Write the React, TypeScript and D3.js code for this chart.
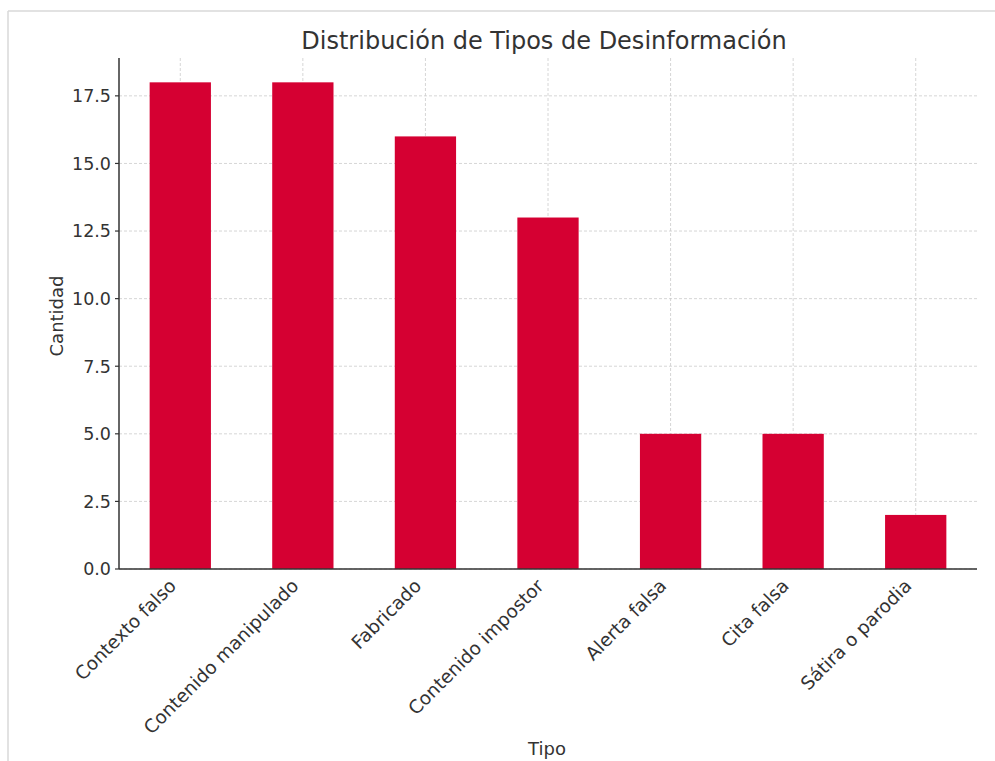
import React from "react";
import * as d3 from "d3";

const categories: string[] = [
  "Contexto falso",
  "Contenido manipulado",
  "Fabricado",
  "Contenido impostor",
  "Alerta falsa",
  "Cita falsa",
  "Sátira o parodia",
];
const values: number[] = [18, 18, 16, 13, 5, 5, 2];
const yTicks: number[] = [0, 2.5, 5, 7.5, 10, 12.5, 15, 17.5];
const title = "Distribución de Tipos de Desinformación";
const xLabel = "Tipo";
const yLabel = "Cantidad";

const W = 995;
const H = 761;
const left = 119;
const right = 977;
const top = 58;
const bottom = 569;
const FONT = "'DejaVu Sans', sans-serif";

export default function App() {
  const x = d3
    .scaleBand<string>()
    .domain(categories)
    .range([left, right])
    .paddingInner(0.5)
    .paddingOuter(0.25);
  const y = d3.scaleLinear().domain([0, 18.9]).range([bottom, top]);
  const fmt = d3.format(".1f");

  return (
    <div style={{ position: "absolute", left: 0, top: 0 }}>
      <svg width={W} height={H} style={{ display: "block", background: "#fff" }}>
        {/* frame */}
        <line x1={8} y1={11} x2={W} y2={11} stroke="#d9d9d9" strokeWidth={1.5} />
        <line x1={8} y1={11} x2={8} y2={H} stroke="#d9d9d9" strokeWidth={1.5} />

        {/* grid */}
        {yTicks.map((t) => (
          <line
            key={"gy" + t}
            x1={left}
            x2={right}
            y1={y(t)}
            y2={y(t)}
            stroke="#cccccc"
            strokeWidth={0.8}
            strokeDasharray="3,2"
          />
        ))}
        {categories.map((c) => (
          <line
            key={"gx" + c}
            x1={x(c)! + x.bandwidth() / 2}
            x2={x(c)! + x.bandwidth() / 2}
            y1={top}
            y2={bottom}
            stroke="#cccccc"
            strokeWidth={0.8}
            strokeDasharray="3,2"
          />
        ))}

        {/* bars */}
        {categories.map((c, i) => (
          <rect
            key={"b" + c}
            x={x(c)!}
            y={y(values[i])}
            width={x.bandwidth()}
            height={y(0) - y(values[i])}
            fill="#D50032"
          />
        ))}

        {/* spines */}
        <line x1={left} x2={left} y1={top} y2={bottom} stroke="#333" strokeWidth={1.5} />
        <line x1={left} x2={right} y1={bottom} y2={bottom} stroke="#333" strokeWidth={1.5} />

        {/* y ticks */}
        {yTicks.map((t) => (
          <g key={"yt" + t}>
            <line x1={left - 4} x2={left} y1={y(t)} y2={y(t)} stroke="#333" strokeWidth={1.2} />
            <text
              x={left - 8}
              y={y(t)}
              dy="0.36em"
              textAnchor="end"
              fontFamily={FONT}
              fontSize={17.5}
              fill="#333"
            >
              {fmt(t)}
            </text>
          </g>
        ))}

        {/* x tick labels */}
        {categories.map((c) => {
          const cx = x(c)! + x.bandwidth() / 2;
          return (
            <text
              key={"xt" + c}
              transform={`translate(${cx - 3},${bottom + 18}) rotate(-45)`}
              textAnchor="end"
              fontFamily={FONT}
              fontSize={18.5}
              fill="#333"
            >
              {c}
            </text>
          );
        })}

        {/* title */}
        <text
          x={(left + right) / 2 - 4}
          y={49}
          textAnchor="middle"
          fontFamily={FONT}
          fontSize={24}
          fill="#333"
        >
          {title}
        </text>

        {/* axis labels */}
        <text
          x={547}
          y={755}
          textAnchor="middle"
          fontFamily={FONT}
          fontSize={18}
          fill="#333"
        >
          {xLabel}
        </text>
        <text
          transform={`translate(63,316) rotate(-90)`}
          textAnchor="middle"
          fontFamily={FONT}
          fontSize={18}
          fill="#333"
        >
          {yLabel}
        </text>
      </svg>
    </div>
  );
}
